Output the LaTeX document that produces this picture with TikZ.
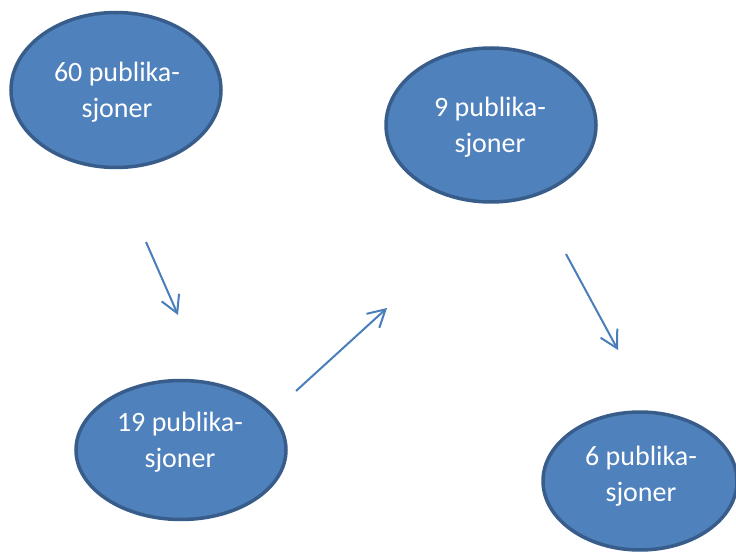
\documentclass[tikz,border=0pt]{standalone}
\usepackage{fontspec}
\setmainfont{Carlito}
\usetikzlibrary{shapes.geometric,arrows.meta}
\definecolor{ellfill}{HTML}{4F81BD}
\definecolor{elldraw}{HTML}{385D8A}
\definecolor{arrcol}{HTML}{4A7EBB}
\tikzset{
  pub/.style={ellipse, fill=ellfill, draw=elldraw, line width=3.5pt, inner sep=0pt},
  pubtext/.style={text=white, align=center, font=\fontsize{28}{36}\selectfont, inner sep=0pt},
  flow/.style={draw=arrcol, line width=2pt, -{Straight Barb[length=17pt,width=19pt,line width=2pt]}}
}
\begin{document}
\begin{tikzpicture}[x=1pt,y=-1pt]
\useasboundingbox (0,0) rectangle (736,553);
\node[pub, minimum width=210pt, minimum height=155pt] (e1) at (116,90) {};
\node[pub, minimum width=210pt, minimum height=154pt] (e2) at (491,125) {};
\node[pub, minimum width=210pt, minimum height=139pt] (e3) at (181,450) {};
\node[pub, minimum width=194pt, minimum height=138pt] (e4) at (640,481) {};
\node[pubtext] (t1) at (117,92) {60 publika-\\sjoner};
\node[pubtext] (t2) at (490,127) {9 publika-\\sjoner};
\node[pubtext] (t3) at (180,442) {19 publika-\\sjoner};
\node[pubtext] (t4) at (641,476) {6 publika-\\sjoner};
\coordinate (a1s) at (146,242);
\coordinate (a1e) at (178,315);
\coordinate (a2s) at (296,391);
\coordinate (a2e) at (387,308);
\coordinate (a3s) at (566,254);
\coordinate (a3e) at (618,350);
\draw[flow] (a1s) -- (a1e);
\draw[flow] (a2s) -- (a2e);
\draw[flow] (a3s) -- (a3e);
\end{tikzpicture}
\end{document}
